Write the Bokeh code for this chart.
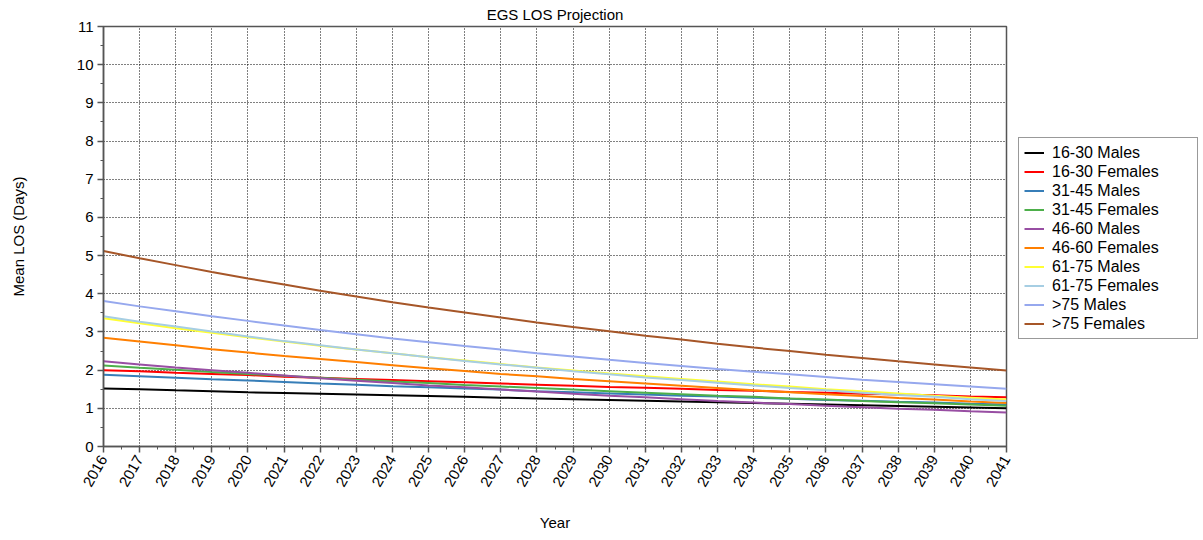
from bokeh.plotting import figure
from bokeh.layouts import row
from bokeh.models import Legend, LegendItem, Range1d, SingleIntervalTicker
from bokeh.embed import file_html
from bokeh.resources import INLINE
import math

years = list(range(2016, 2042))
series_names = ["16-30 Males", "16-30 Females", "31-45 Males", "31-45 Females",
                "46-60 Males", "46-60 Females", "61-75 Males", "61-75 Females",
                ">75 Males", ">75 Females"]
colors = ["#000000", "#ff0000", "#377eb8", "#4daf4a", "#984ea3",
          "#ff7f00", "#ffff33", "#a6cee3", "#96a8ee", "#a65628"]

m_16_30 = [1.52, 1.50, 1.47, 1.45, 1.42, 1.40, 1.38, 1.36, 1.34, 1.32, 1.30, 1.28, 1.26,
           1.24, 1.22, 1.20, 1.18, 1.16, 1.14, 1.12, 1.10, 1.08, 1.06, 1.04, 1.02, 1.00]
f_16_30 = [2.00, 1.97, 1.93, 1.90, 1.87, 1.83, 1.80, 1.77, 1.74, 1.71, 1.68, 1.65, 1.62,
           1.59, 1.56, 1.54, 1.51, 1.48, 1.46, 1.43, 1.41, 1.38, 1.36, 1.34, 1.31, 1.29]
m_31_45 = [1.88, 1.84, 1.80, 1.76, 1.73, 1.69, 1.65, 1.62, 1.58, 1.55, 1.52, 1.49, 1.45,
           1.42, 1.39, 1.36, 1.33, 1.31, 1.28, 1.25, 1.22, 1.20, 1.17, 1.15, 1.12, 1.10]
f_31_45 = [2.12, 2.06, 2.01, 1.95, 1.90, 1.85, 1.80, 1.75, 1.70, 1.66, 1.61, 1.57, 1.53,
           1.49, 1.45, 1.41, 1.37, 1.33, 1.30, 1.26, 1.23, 1.19, 1.16, 1.13, 1.10, 1.07]
m_46_60 = [2.23, 2.15, 2.07, 2.00, 1.93, 1.86, 1.79, 1.72, 1.66, 1.60, 1.55, 1.49, 1.44,
           1.38, 1.33, 1.29, 1.24, 1.19, 1.15, 1.11, 1.07, 1.03, 0.99, 0.96, 0.92, 0.89]
f_46_60 = [2.85, 2.75, 2.65, 2.55, 2.46, 2.37, 2.29, 2.21, 2.13, 2.05, 1.98, 1.90, 1.84,
           1.77, 1.71, 1.65, 1.59, 1.53, 1.47, 1.42, 1.37, 1.32, 1.27, 1.23, 1.18, 1.14]
m_61_75 = [3.36, 3.23, 3.10, 2.98, 2.86, 2.75, 2.64, 2.54, 2.44, 2.34, 2.25, 2.16, 2.07,
           1.99, 1.91, 1.84, 1.77, 1.70, 1.63, 1.57, 1.50, 1.45, 1.39, 1.33, 1.28, 1.23]
f_61_75 = [3.41, 3.27, 3.14, 3.01, 2.88, 2.76, 2.65, 2.54, 2.44, 2.34, 2.24, 2.15, 2.06,
           1.97, 1.89, 1.81, 1.74, 1.67, 1.60, 1.53, 1.47, 1.41, 1.35, 1.30, 1.24, 1.19]
m_75 = [3.81, 3.67, 3.54, 3.41, 3.29, 3.17, 3.05, 2.94, 2.83, 2.73, 2.63, 2.54, 2.44,
        2.36, 2.27, 2.19, 2.11, 2.03, 1.96, 1.89, 1.82, 1.75, 1.69, 1.63, 1.57, 1.51]
f_75 = [5.12, 4.93, 4.75, 4.57, 4.40, 4.24, 4.08, 3.93, 3.78, 3.64, 3.51, 3.38, 3.25,
        3.13, 3.02, 2.90, 2.80, 2.69, 2.59, 2.50, 2.40, 2.32, 2.23, 2.15, 2.07, 1.99]

series_values = [m_16_30, f_16_30, m_31_45, f_31_45, m_46_60, f_46_60,
                 m_61_75, f_61_75, m_75, f_75]

FONT = "Liberation Sans"

p = figure(frame_width=903, frame_height=420, output_backend="svg", toolbar_location=None,
           title="EGS LOS Projection",
           x_range=Range1d(2016, 2041), y_range=Range1d(0, 11),
           min_border_left=103, min_border_top=25, min_border_bottom=92, min_border_right=10)

p.title.align = "center"
p.title.text_font = FONT
p.title.text_font_size = "15px"
p.title.text_font_style = "normal"
p.title.text_color = "#000000"
p.title.standoff = 7

p.outline_line_color = "#555555"
p.outline_line_width = 1.5
p.outline_line_alpha = 1.0

p.xaxis.ticker = SingleIntervalTicker(interval=1, num_minor_ticks=2)
p.yaxis.ticker = SingleIntervalTicker(interval=1, num_minor_ticks=2)

for ax in (p.xaxis[0], p.yaxis[0]):
    ax.axis_line_color = "#555555"
    ax.axis_line_width = 1.5
    ax.major_tick_line_color = "#555555"
    ax.major_tick_line_width = 1.5
    ax.minor_tick_line_color = "#555555"
    ax.minor_tick_line_width = 1
    ax.major_tick_in = 0
    ax.major_tick_out = 6
    ax.minor_tick_in = 0
    ax.minor_tick_out = 3
    ax.major_label_text_font = FONT
    ax.major_label_text_font_size = "15px"
    ax.major_label_text_color = "#000000"
    ax.axis_label_text_font = FONT
    ax.axis_label_text_font_size = "15px"
    ax.axis_label_text_font_style = "normal"
    ax.axis_label_text_color = "#000000"

p.xaxis.axis_label = "Year"
p.yaxis.axis_label = "Mean LOS (Days)"
p.xaxis.major_label_orientation = math.pi / 3
p.xaxis.major_label_standoff = 4
p.yaxis.major_label_standoff = 4
p.xaxis.axis_label_standoff = 21
p.yaxis.axis_label_standoff = 47

p.xgrid.grid_line_color = "#000000"
p.ygrid.grid_line_color = "#000000"
p.xgrid.grid_line_dash = "1 2"
p.ygrid.grid_line_dash = "1 2"
p.xgrid.grid_line_width = 1
p.ygrid.grid_line_width = 1

for vals, col in zip(series_values, colors):
    p.line(years, vals, line_color=col, line_width=2)

# legend panel: a bare figure that only holds the legend box
lp = figure(width=185, height=537, output_backend="svg", toolbar_location=None,
            x_range=Range1d(0, 1), y_range=Range1d(0, 1),
            x_axis_type=None, y_axis_type=None,
            min_border_left=0, min_border_right=0, min_border_top=0, min_border_bottom=0)
lp.outline_line_color = None
lp.xgrid.visible = False
lp.ygrid.visible = False

items = []
for name, col in zip(series_names, colors):
    r = lp.line([5, 6], [5, 6], line_color=col, line_width=2)
    items.append(LegendItem(label=name, renderers=[r]))

legend = Legend(items=items, location=(2, 106))
legend.label_text_font = FONT
legend.label_text_font_size = "16px"
legend.label_text_color = "#000000"
legend.padding = 5
legend.spacing = 0
legend.margin = 0
legend.label_height = 19
legend.glyph_height = 19
legend.glyph_width = 20
legend.label_standoff = 8
legend.label_width = 140
legend.border_line_color = "#333333"
legend.border_line_width = 1
legend.background_fill_color = "#ffffff"
legend.background_fill_alpha = 1.0
lp.add_layout(legend)

layout = row(p, lp)
open("out.html", "w").write(file_html(layout, INLINE))
